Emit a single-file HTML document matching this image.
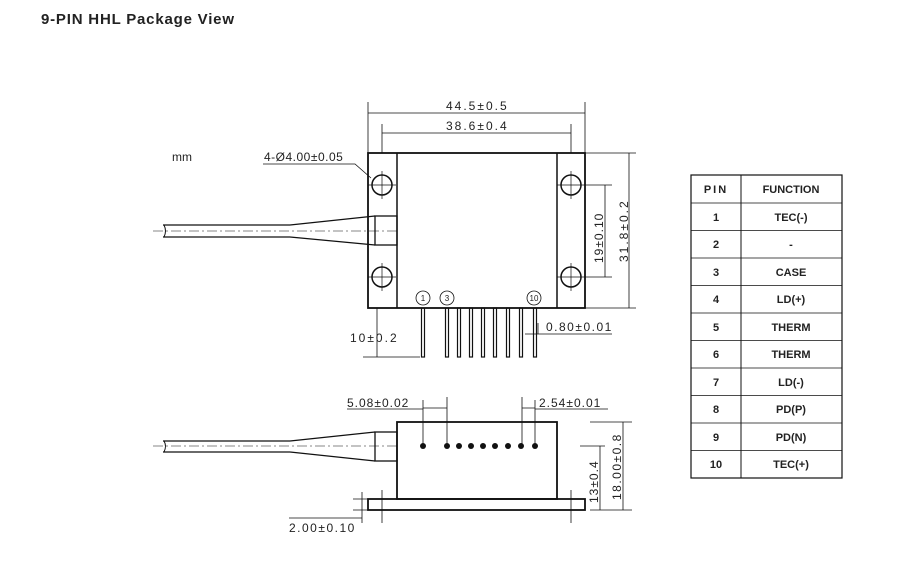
<!DOCTYPE html>
<html><head><style>
body{margin:0;background:#fff;width:912px;height:568px;overflow:hidden}
svg{display:block}
text{font-family:"Liberation Sans",sans-serif;fill:#222}
</style></head><body>
<svg width="912" height="568" viewBox="0 0 912 568">
<text x="41" y="24" font-size="15" font-weight="bold" letter-spacing="0.8">9-PIN HHL Package View</text>
<text x="172" y="161" font-size="12">mm</text>
<g stroke="#111" fill="none" stroke-width="1">
<rect x="368" y="153" width="217" height="155" stroke-width="1.8"/>
<line x1="397" y1="153" x2="397" y2="308" stroke-width="1.5"/>
<line x1="557" y1="153" x2="557" y2="308" stroke-width="1.5"/>
<circle cx="382" cy="185" r="10" stroke-width="1.5"/><circle cx="571" cy="185" r="10" stroke-width="1.5"/>
<circle cx="382" cy="277" r="10" stroke-width="1.5"/><circle cx="571" cy="277" r="10" stroke-width="1.5"/>
<path d="M368 185h28M382 171v28M557 185h28M571 171v28M368 277h28M382 263v28M557 277h28M571 263v28" stroke-width="0.7"/>
<path d="M163 225H290M163 237H290M290 225L375 216M290 237L375 245" stroke-width="1.3"/>
<rect x="375" y="216" width="22" height="29" stroke-width="1.3"/>
<path d="M153 231H397" stroke-width="0.6" stroke-dasharray="10 3 2 3"/>
<path d="M164 225q3 6 0 12" stroke-width="1"/>
<g stroke-width="1.2">
<rect x="421.5" y="308" width="3" height="49"/><rect x="445.5" y="308" width="3" height="49"/>
<rect x="457.5" y="308" width="3" height="49"/><rect x="469.5" y="308" width="3" height="49"/>
<rect x="481.5" y="308" width="3" height="49"/><rect x="493.5" y="308" width="3" height="49"/>
<rect x="506.5" y="308" width="3" height="49"/><rect x="519.5" y="308" width="3" height="49"/>
<rect x="533.5" y="308" width="3" height="49"/>
</g>
<circle cx="423" cy="298" r="7" stroke-width="0.8"/><circle cx="447" cy="298" r="7" stroke-width="0.8"/><circle cx="534" cy="298" r="7" stroke-width="0.8"/>
<path d="M368 102V153M585 102V153M368 113H585M382 124V153M571 124V153M382 133H571" stroke-width="0.8"/>
<path d="M585 153H636M585 308H636M629 153V308M585 185H612M585 277H612M605 185V277" stroke-width="0.8"/>
<path d="M363 357H420M377 308V357M525 334H612M538 323V334" stroke-width="0.8"/>
<path d="M263 164H355L371 178" stroke-width="0.8"/>
<rect x="397" y="422" width="160" height="77" stroke-width="1.8"/>
<rect x="368" y="499" width="217" height="11" stroke-width="1.8"/>
<path d="M163 441H290M163 452H290M290 441L375 432M290 452L375 461" stroke-width="1.3"/>
<rect x="375" y="432" width="22" height="29" stroke-width="1.3"/>
<path d="M153 446H397" stroke-width="0.6" stroke-dasharray="10 3 2 3"/>
<path d="M164 441q3 5 0 11" stroke-width="1"/>
<path d="M423 400V446M447 397V446M522 397V446M535 400V446M423 408H447M522 408H535M347 409H423M535 409H608" stroke-width="0.8"/>
<path d="M382 490V523M571 490V523M590 422H632M590 510H632M623 422V510M580 446H605M600 446V510" stroke-width="0.8"/>
<path d="M353 499H368M353 510H368M362 492V523M289 518H362" stroke-width="0.8"/>
<rect x="691" y="175" width="151" height="303" stroke-width="1.2"/>
<line x1="741" y1="175" x2="741" y2="478"/>
<path d="M691 203H842M691 230.5H842M691 258H842M691 285.5H842M691 313H842M691 340.5H842M691 368H842M691 395.5H842M691 423H842M691 450.5H842" stroke-width="0.8"/>
</g>
<g fill="#111">
<circle cx="423" cy="446" r="3"/><circle cx="447" cy="446" r="3"/><circle cx="459" cy="446" r="3"/><circle cx="471" cy="446" r="3"/><circle cx="483" cy="446" r="3"/><circle cx="495" cy="446" r="3"/><circle cx="508" cy="446" r="3"/><circle cx="521" cy="446" r="3"/><circle cx="535" cy="446" r="3"/>
</g>
<g font-size="12" letter-spacing="2">
<text x="446" y="110">44.5±0.5</text>
<text x="446" y="130">38.6±0.4</text>
<text x="264" y="161" letter-spacing="0.5">4-Ø4.00±0.05</text>
<text x="350" y="342">10±0.2</text>
<text x="546" y="331" letter-spacing="1.5">0.80±0.01</text>
<text x="347" y="407" letter-spacing="1">5.08±0.02</text>
<text x="539" y="407" letter-spacing="1">2.54±0.01</text>
<text x="289" y="532" letter-spacing="1.5">2.00±0.10</text>
<text transform="translate(603 263) rotate(-90)" letter-spacing="1">19±0.10</text>
<text transform="translate(628 262) rotate(-90)">31.8±0.2</text>
<text transform="translate(598 503) rotate(-90)" letter-spacing="1">13±0.4</text>
<text transform="translate(621 500) rotate(-90)" letter-spacing="1.5">18.00±0.8</text>
</g>
<g font-size="8" text-anchor="middle">
<text x="423" y="301">1</text><text x="447" y="301">3</text><text x="534" y="301">10</text>
</g>
<g font-size="11" text-anchor="middle" font-weight="bold">
<text x="716" y="193" letter-spacing="2">PIN</text><text x="791" y="193">FUNCTION</text>
<text x="716" y="221">1</text><text x="791" y="221">TEC(-)</text>
<text x="716" y="248">2</text><text x="791" y="248">-</text>
<text x="716" y="276">3</text><text x="791" y="276">CASE</text>
<text x="716" y="303">4</text><text x="791" y="303">LD(+)</text>
<text x="716" y="331">5</text><text x="791" y="331">THERM</text>
<text x="716" y="358">6</text><text x="791" y="358">THERM</text>
<text x="716" y="386">7</text><text x="791" y="386">LD(-)</text>
<text x="716" y="413">8</text><text x="791" y="413">PD(P)</text>
<text x="716" y="441">9</text><text x="791" y="441">PD(N)</text>
<text x="716" y="468">10</text><text x="791" y="468">TEC(+)</text>
</g>
</svg>
</body></html>
